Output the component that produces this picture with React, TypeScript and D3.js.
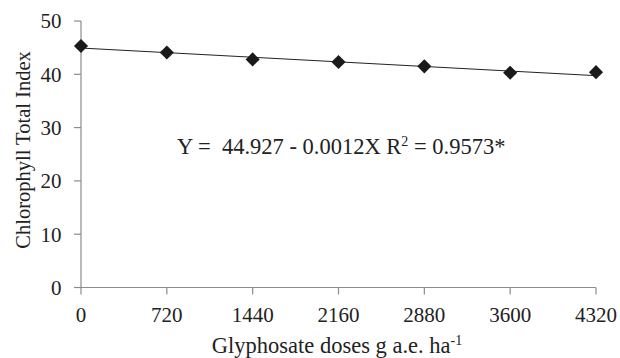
import React from "react";
import * as d3 from "d3";

const doses = [0, 720, 1440, 2160, 2880, 3600, 4320];
const chlorophyll = [45.3, 44.1, 42.8, 42.3, 41.5, 40.3, 40.4];
const yTicks = [0, 10, 20, 30, 40, 50];
const intercept = 44.927;
const slope = -0.0012;

const W = 620;
const H = 358;
const left = 81;
const right = 596;
const top = 21;
const bottom = 287.5;

export default function App() {
  const x = d3.scaleLinear().domain([0, 4320]).range([left, right]);
  const y = d3.scaleLinear().domain([0, 50]).range([bottom, top]);
  const fit = d3
    .line<number>()
    .x((d) => x(d))
    .y((d) => y(intercept + slope * d));
  const diamond = d3.symbol().type(d3.symbolSquare).size(100)()!;
  const axisColor = "#8c8c8c";
  const font = "'Liberation Serif', 'Times New Roman', serif";

  return (
    <svg
      width={W}
      height={H}
      style={{ position: "absolute", left: 0, top: 0, background: "#fff" }}
      fontFamily={font}
    >
      {/* y axis */}
      <line x1={left} x2={left} y1={top} y2={bottom} stroke={axisColor} strokeWidth={1.2} />
      {yTicks.map((t) => (
        <g key={t}>
          <line x1={left - 7} x2={left} y1={y(t)} y2={y(t)} stroke={axisColor} strokeWidth={1.2} />
          <text x={61.5} y={y(t)} dy="0.35em" textAnchor="end" fontSize={21} fill="#222">
            {t}
          </text>
        </g>
      ))}
      {/* x axis */}
      <line x1={left} x2={right} y1={bottom} y2={bottom} stroke={axisColor} strokeWidth={1.2} />
      {doses.map((t) => (
        <g key={t}>
          <line x1={x(t)} x2={x(t)} y1={bottom} y2={bottom + 7} stroke={axisColor} strokeWidth={1.2} />
          <text x={x(t)} y={322} textAnchor="middle" fontSize={21} fill="#222">
            {t}
          </text>
        </g>
      ))}
      {/* regression line */}
      <path d={fit([0, 4320])!} fill="none" stroke="#222" strokeWidth={1} />
      {/* observed means */}
      {doses.map((d, i) => (
        <path
          key={d}
          d={diamond}
          transform={`translate(${x(d)},${y(chlorophyll[i])}) rotate(45)`}
          fill="#1a1a1a"
        />
      ))}
      {/* equation */}
      <text x={177} y={154} fontSize={22.5} fill="#222" xmlSpace="preserve">
        {"Y =  44.927 - 0.0012X R"}
        <tspan fontSize={14} dy={-8}>2</tspan>
        <tspan dy={8}>{" = 0.9573*"}</tspan>
      </text>
      {/* axis titles */}
      <text
        transform={`translate(30,150) rotate(-90)`}
        textAnchor="middle"
        fontSize={20.5}
        fill="#222"
      >
        Chlorophyll Total Index
      </text>
      <text x={337} y={353} textAnchor="middle" fontSize={22.5} fill="#222">
        Glyphosate doses g a.e. ha
        <tspan fontSize={14} dy={-8}>-1</tspan>
      </text>
    </svg>
  );
}
